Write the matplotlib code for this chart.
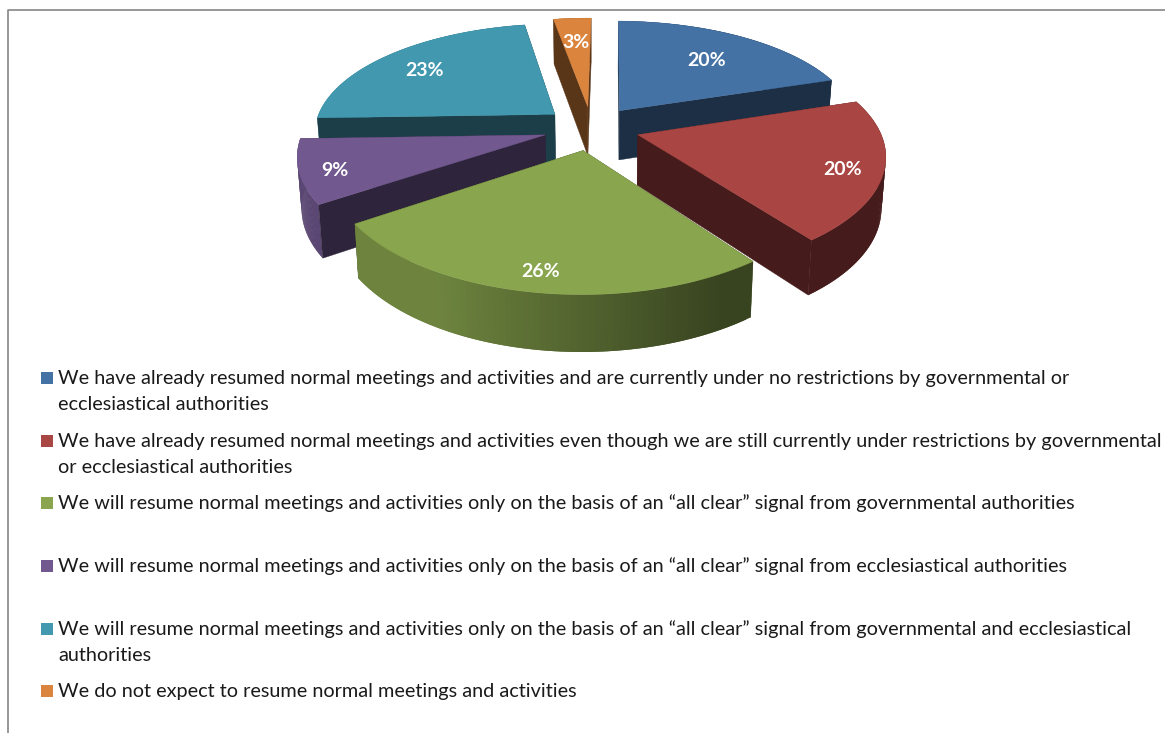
import numpy as np
import matplotlib
matplotlib.use('Agg')
import matplotlib.pyplot as plt
from matplotlib.patches import Polygon, Rectangle

valores = [20, 20, 26, 9, 23, 3]
etiquetas = ['20%', '20%', '26%', '9%', '23%', '3%']
colores = ['#4472a5', '#a94543', '#89a54e', '#71588f', '#4198af', '#db843d']
leyenda = [
    ['We have already resumed normal meetings and activities and are currently under no restrictions by governmental or',
     'ecclesiastical authorities'],
    ['We have already resumed normal meetings and activities even though we are still currently under restrictions by governmental',
     'or ecclesiastical authorities'],
    ['We will resume normal meetings and activities only on the basis of an \u201call clear\u201d signal from governmental authorities'],
    ['We will resume normal meetings and activities only on the basis of an \u201call clear\u201d signal from ecclesiastical authorities'],
    ['We will resume normal meetings and activities only on the basis of an \u201call clear\u201d signal from governmental and ecclesiastical',
     'authorities'],
    ['We do not expect to resume normal meetings and activities'],
]
# linea base de cada renglon de la leyenda, en pixeles
bases_leyenda = [[384, 410], [447, 473], [509], [572], [635, 661], [697]]

# parametros de la proyeccion del pie 3D
CX, CY = 591.5, 128
RX, RY = 241, 110.5
KX, KY = 0.16, 0.172
EXPLOSION = 0.2
ALTO = 50
GIRO = np.radians(0.8)
# radio al que va cada porcentaje
radios_etiqueta = [0.7, 0.84, 0.85, 0.86, 0.78, 0.75]


def proyectar(r, theta, phi):
    x = r * np.sin(theta) + EXPLOSION * np.sin(phi)
    y = r * np.cos(theta) + EXPLOSION * np.cos(phi)
    wx = 1 / (1 + KX * y)
    wy = 1 / (1 + KY * y)
    return CX + RX * x * wx, CY - RY * y * wy, wy


def bajar(sx, sy, w):
    # mismo punto en la base del pie
    return CX + (sx - CX) * 0.985, sy + ALTO * w ** 0.6


def oscurecer(color, factor):
    rgb = np.array(matplotlib.colors.to_rgb(color))
    return tuple(rgb * factor)


def dibujar_porcion(ax, ini, fin, color):
    phi = (ini + fin) / 2
    thetas = np.linspace(ini, fin, 80)
    sx, sy, w = proyectar(1, thetas, phi)
    bx, by = bajar(sx, sy, w)
    tx, ty, tw = proyectar(0, 0, phi)
    tbx, tby = bajar(tx, ty, tw)
    oscuro = oscurecer(color, 0.41)

    def cara(i):
        puntos = [(tx, ty), (sx[i], sy[i]), (bx[i], by[i]), (tbx, tby)]
        ax.add_patch(Polygon(puntos, facecolor=oscuro, edgecolor=oscuro, linewidth=0.3))

    # el corte inicial mira al frente si pasa de 180 grados, el final si no llega
    cara_ini_visible = np.sin(ini) < 0
    cara_fin_visible = np.sin(fin) > 0

    if not cara_ini_visible:
        cara(0)
    if not cara_fin_visible:
        cara(-1)

    # borde exterior con sombreado de izquierda a derecha
    for i in range(len(thetas) - 1):
        f = np.clip(0.6 - 0.4 * np.sin((thetas[i] + thetas[i + 1]) / 2), 0.41, 0.8)
        c = oscurecer(color, f)
        j = min(i + 2, len(thetas) - 1)
        tramo = [(sx[i], sy[i]), (sx[j], sy[j]), (bx[j], by[j]), (bx[i], by[i])]
        ax.add_patch(Polygon(tramo, facecolor=c, edgecolor='none'))

    if cara_ini_visible:
        cara(0)
    if cara_fin_visible:
        cara(-1)

    tapa = [(tx, ty)] + list(zip(sx, sy))
    ax.add_patch(Polygon(tapa, facecolor=color, edgecolor=color, linewidth=0.3))


fig = plt.figure(figsize=(11.65, 7.33), dpi=100)
ax = fig.add_axes([0, 0, 1, 1])
ax.set_xlim(0, 1165)
ax.set_ylim(733, 0)
ax.axis('off')

# marco del grafico
ax.plot([1165, 8, 8], [9.5, 9.5, 733], color='#868686', linewidth=1.2)

acumulado = np.cumsum([0] + valores) / sum(valores) * 2 * np.pi + GIRO
orden = [5, 4, 0, 3, 1, 2]
for i in orden:
    dibujar_porcion(ax, acumulado[i], acumulado[i + 1], colores[i])

for i, texto in enumerate(etiquetas):
    medio = (acumulado[i] + acumulado[i + 1]) / 2
    lx, ly, _ = proyectar(radios_etiqueta[i], medio, medio)
    ax.text(lx, ly + 4, texto, color='white', fontsize=14, fontweight='bold', family='Lato',
            ha='center', va='center')

for color, lineas, bases in zip(colores, leyenda, bases_leyenda):
    ax.add_patch(Rectangle((41, bases[0] - 12), 12, 12, facecolor=color, edgecolor='none'))
    for linea, base in zip(lineas, bases):
        ax.text(58, base, linea, color='#1a1a1a', fontsize=14.3, family='Lato', ha='left', va='baseline')

fig.savefig('out.png', dpi=100)
